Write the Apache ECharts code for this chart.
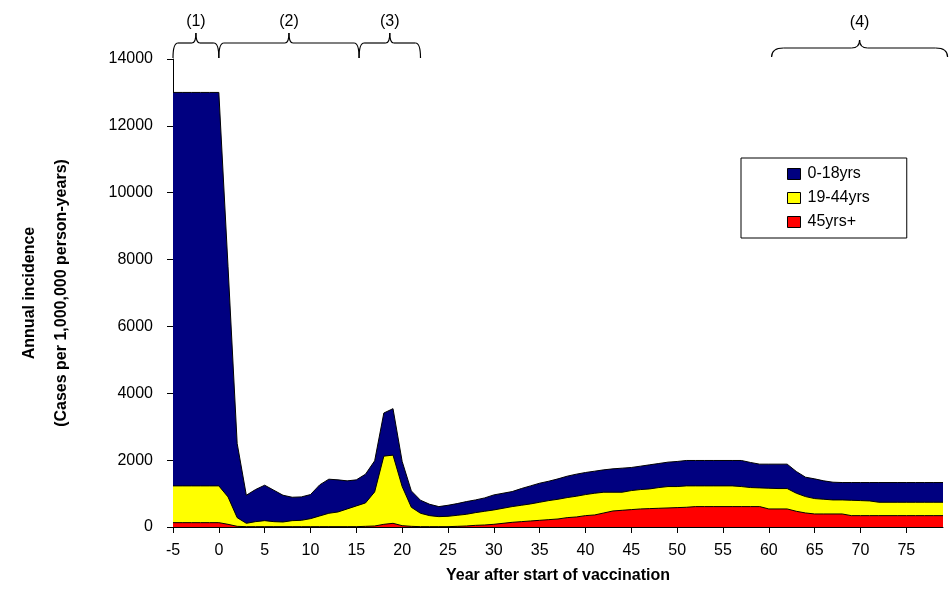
<!DOCTYPE html>
<html>
<head>
<meta charset="utf-8">
<script src="https://cdn.jsdelivr.net/npm/echarts@6/dist/echarts.min.js"></script>
<style>
  html, body { margin: 0; padding: 0; background: #ffffff; }
  #chart { width: 949px; height: 592px; }
</style>
</head>
<body>
<div id="chart"></div>
<script>
// Years relative to the start of vaccination
const years = [
  -5, -4, -3, -2, -1, 0, 1, 2, 3, 4, 5, 6, 7, 8, 9, 10, 11, 12, 13, 14,
  15, 16, 17, 18, 19, 20, 21, 22, 23, 24, 25, 26, 27, 28, 29, 30, 31, 32, 33, 34,
  35, 36, 37, 38, 39, 40, 41, 42, 43, 44, 45, 46, 47, 48, 49, 50, 51, 52, 53, 54,
  55, 56, 57, 58, 59, 60, 61, 62, 63, 64, 65, 66, 67, 68, 69, 70, 71, 72, 73, 74,
  75, 76, 77, 78, 79
];

// Annual incidence per 1,000,000 person-years, by age group (stacked)
const age45plus = [
  130, 130, 130, 130, 130, 130, 80, 20, 10, 10, 10, 10, 10, 10, 10, 10, 10, 10, 10, 10,
  10, 20, 30, 80, 110, 40, 20, 10, 10, 10, 10, 20, 30, 50, 60, 80, 110, 140, 160, 180,
  200, 220, 240, 280, 300, 340, 360, 420, 480, 500, 520, 540, 550, 560, 570, 580, 590, 610, 610, 610,
  610, 610, 610, 610, 610, 540, 540, 540, 470, 420, 390, 390, 390, 390, 340, 340, 340, 340, 340, 340,
  340, 340, 340, 340, 340
];
const age19to44 = [
  1100, 1100, 1100, 1100, 1100, 1100, 820, 260, 100, 150, 180, 150, 140, 180, 190, 240, 320, 400, 440, 530,
  620, 700, 1020, 2040, 2040, 1170, 570, 400, 330, 300, 310, 330, 350, 380, 410, 430, 450, 470, 490, 510,
  540, 570, 590, 600, 620, 630, 650, 620, 560, 540, 570, 580, 590, 620, 640, 630, 640, 620, 620, 620,
  620, 620, 600, 570, 560, 620, 610, 610, 540, 490, 460, 440, 420, 420, 460, 450, 440, 400, 400, 400,
  400, 400, 400, 400, 400
];
const age0to18 = [
  11770, 11770, 11770, 11770, 11770, 11770, 6900, 2220, 840, 960, 1060, 940, 800, 700, 700, 720, 930, 1020, 960, 840,
  780, 860, 930, 1290, 1390, 750, 490, 390, 340, 300, 330, 350, 380, 380, 400, 450, 450, 450, 500, 540,
  570, 580, 610, 640, 660, 660, 660, 670, 700, 720, 690, 700, 720, 720, 730, 750, 760, 760, 760, 760,
  760, 760, 780, 750, 710, 720, 730, 730, 650, 580, 590, 550, 530, 520, 530, 540, 550, 590, 590, 590,
  590, 590, 590, 590, 590
];

// Axis tick labels
const xTickLabels = [-5, 0, 5, 10, 15, 20, 25, 30, 35, 40, 45, 50, 55, 60, 65, 70, 75];
const yTickLabels = [0, 2000, 4000, 6000, 8000, 10000, 12000, 14000];

// Study periods marked with braces above the plot: [from year, to year, label]
const periods = [
  [-5, 0, '(1)'],
  [0, 15.3, '(2)'],
  [15.3, 22, '(3)'],
  [60.3, 79.5, '(4)']
];

const FONT = '"Liberation Sans", Arial, sans-serif';

// Layer tops of the stacked areas: each band is drawn from the axis up to
// its cumulative top, upper bands first so lower bands paint over them.
const topRed = age45plus.map(function (v, i) { return [years[i], v]; });
const topYellow = age19to44.map(function (v, i) { return [years[i], v + age45plus[i]]; });
const topNavy = age0to18.map(function (v, i) { return [years[i], v + age19to44[i] + age45plus[i]]; });

const chart = echarts.init(document.getElementById('chart'), null, { renderer: 'canvas' });

function band(name, color, data, z) {
  return {
    name: name,
    type: 'line',
    data: data,
    symbol: 'none',
    smooth: false,
    lineStyle: { color: '#000000', width: 1 },
    itemStyle: { color: color },
    areaStyle: { color: color, opacity: 1, origin: 'start' },
    emphasis: { disabled: true },
    z: z
  };
}

const option = {
  animation: false,
  backgroundColor: '#ffffff',
  textStyle: { fontFamily: FONT },
  grid: {
    left: 173, right: 6, top: 59, bottom: 65,
    outerBoundsMode: 'none'
  },
  legend: {
    data: ['0-18yrs', '19-44yrs', '45yrs+'],
    orient: 'vertical',
    left: 741,
    top: 158,
    padding: [6, 37, 6, 46],
    itemGap: 4,
    itemWidth: 13,
    itemHeight: 11,
    icon: 'rect',
    borderColor: '#000000',
    borderWidth: 1,
    backgroundColor: '#ffffff',
    itemStyle: { borderColor: '#000000', borderWidth: 1 },
    textStyle: { fontSize: 16, color: '#000000', fontFamily: FONT, lineHeight: 20, padding: [0, 0, 0, 2] },
    selectedMode: false
  },
  xAxis: {
    type: 'value',
    min: -5,
    max: 79,
    interval: 5,
    name: 'Year after start of vaccination',
    nameLocation: 'middle',
    nameGap: 41,
    nameTextStyle: { fontSize: 16, fontWeight: 'bold', color: '#000000', fontFamily: FONT },
    axisLine: { show: true, onZero: false, lineStyle: { color: '#000000', width: 1 } },
    axisTick: { show: true, length: 6, lineStyle: { color: '#000000' }, customValues: xTickLabels },
    // Tick labels are placed below as text at the axis' own tick positions
    axisLabel: { show: false },
    splitLine: { show: false }
  },
  yAxis: {
    type: 'value',
    min: 0,
    max: 14000,
    interval: 2000,
    name: 'Annual incidence\n(Cases per 1,000,000 person-years)',
    nameLocation: 'middle',
    nameRotate: 90,
    nameGap: 95,
    nameTextStyle: { fontSize: 16, fontWeight: 'bold', color: '#000000', lineHeight: 32, fontFamily: FONT },
    axisLine: { show: true, onZero: false, lineStyle: { color: '#000000', width: 1 } },
    axisTick: { show: true, length: 6, lineStyle: { color: '#000000' }, customValues: yTickLabels },
    axisLabel: {
      fontSize: 16, color: '#000000', margin: 20, fontFamily: FONT,
      customValues: yTickLabels,
      formatter: function (v) { return String(v); }
    },
    splitLine: { show: false }
  },
  series: [
    band('0-18yrs', '#000080', topNavy, 2),
    band('19-44yrs', '#ffff00', topYellow, 3),
    band('45yrs+', '#ff0000', topRed, 4)
  ]
};

chart.setOption(option);

const topY = chart.convertToPixel({ yAxisIndex: 0 }, 14000);
const axisY = chart.convertToPixel({ yAxisIndex: 0 }, 0);
const xLeft = chart.convertToPixel({ xAxisIndex: 0 }, xTickLabels[0]);
const xStep = chart.convertToPixel({ xAxisIndex: 0 }, xTickLabels[2]) - chart.convertToPixel({ xAxisIndex: 0 }, xTickLabels[1]);

// Curly brace built from quadratic curves and straight segments
function brace(x1, x2, yEnd, yBar, yTip, r, rt) {
  const xm = (x1 + x2) / 2;
  const st = { stroke: '#000000', lineWidth: 1.2, fill: null };
  return [
    { type: 'bezierCurve', shape: { x1: x1, y1: yEnd, cpx1: x1, cpy1: yBar, x2: x1 + r, y2: yBar }, style: st },
    { type: 'line', shape: { x1: x1 + r, y1: yBar, x2: xm - rt, y2: yBar }, style: st },
    { type: 'bezierCurve', shape: { x1: xm - rt, y1: yBar, cpx1: xm, cpy1: yBar, x2: xm, y2: yTip }, style: st },
    { type: 'bezierCurve', shape: { x1: xm, y1: yTip, cpx1: xm, cpy1: yBar, x2: xm + rt, y2: yBar }, style: st },
    { type: 'line', shape: { x1: xm + rt, y1: yBar, x2: x2 - r, y2: yBar }, style: st },
    { type: 'bezierCurve', shape: { x1: x2 - r, y1: yBar, cpx1: x2, cpy1: yBar, x2: x2, y2: yEnd }, style: st }
  ];
}

const graphics = [];

// Year labels under the x-axis ticks, spaced by the axis' own tick step
xTickLabels.forEach(function (v, i) {
  graphics.push({
    type: 'text',
    id: 'xlabel' + i,
    x: xLeft + i * xStep,
    y: axisY + 16,
    zlevel: 1,
    style: {
      text: '' + v,
      fontSize: 16,
      fontFamily: FONT,
      fill: '#000000',
      align: 'center',
      verticalAlign: 'top'
    },
    silent: true,
    z: 20
  });
});

periods.forEach(function (p, i) {
  const a = chart.convertToPixel({ xAxisIndex: 0 }, p[0]);
  const b = chart.convertToPixel({ xAxisIndex: 0 }, p[1]);
  const wide = i === 3;
  const yEnd = wide ? topY - 2 : topY - 1;
  const yBar = wide ? topY - 11 : topY - 16;
  const yTip = wide ? topY - 19 : topY - 26;
  const parts = brace(a, b, yEnd, yBar, yTip, wide ? 12 : 5, wide ? 8 : 4);
  parts.forEach(function (el) { el.silent = true; el.z = 10; graphics.push(el); });
  graphics.push({
    type: 'text',
    x: (a + b) / 2,
    y: wide ? 23 : 22,
    style: {
      text: p[2],
      fontSize: 16,
      fontFamily: FONT,
      fill: '#000000',
      align: 'center',
      verticalAlign: 'middle'
    },
    silent: true,
    z: 10
  });
});

chart.setOption({ graphic: graphics });
</script>
</body>
</html>
